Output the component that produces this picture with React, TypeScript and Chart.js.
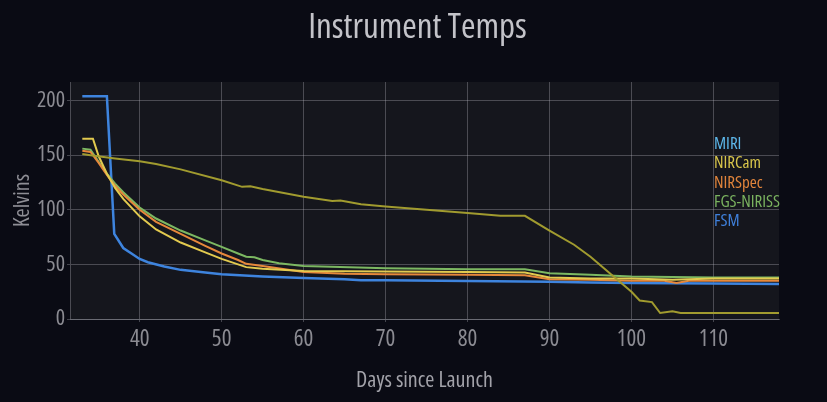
import { useEffect, useRef } from "react";
import { Chart, registerables } from "chart.js";

Chart.register(...registerables);

const FONT = "'Open Sans', sans-serif";
// goes into the weight slot of the canvas font string, picks the condensed face
const STRETCH = "500 condensed";

// days since launch / temperature in kelvin
const miriDays = [33, 34, 37, 40, 42, 45, 50, 52.5, 53.5, 55, 60, 63.5, 64.5, 67, 70, 75, 80, 84, 87, 90, 93, 95, 97.5, 100, 101, 102.5, 103.5, 105, 106, 118];
const miriKelvin = [151, 150, 147, 144.5, 142, 137, 127, 121, 121.5, 119, 112, 108, 108.5, 105, 103, 100, 97, 94.5, 94.5, 81, 68, 57, 41, 25, 17, 15.5, 5.5, 7, 5.5, 5.5];

const nircamDays = [33, 34.3, 35, 36, 37, 38, 40, 42, 45, 48, 50, 53, 55, 60, 70, 80, 87, 90, 95, 100, 105, 110, 118];
const nircamKelvin = [165, 165, 149, 133, 120, 110, 94, 82, 70, 61, 55, 47.5, 46, 44, 43.5, 43, 42.5, 38, 37, 37, 36, 37, 37];

const nirspecDays = [33, 34, 35, 36, 37, 38, 40, 42, 45, 48, 50, 52, 53, 55, 60, 65, 70, 80, 87, 90, 95, 100, 104, 105.5, 107, 118];
const nirspecKelvin = [154, 153, 143, 132, 122, 114, 100, 89, 78, 67, 60, 54, 50.5, 48.5, 43, 41.5, 41, 40.5, 40, 36.5, 36, 35, 35, 33, 35, 35];

const fgsDays = [33, 34, 35, 36, 37, 38, 40, 42, 45, 48, 50, 52, 53, 54, 55, 57, 60, 70, 80, 87, 90, 95, 100, 110, 118];
const fgsKelvin = [156, 155, 144, 133, 124, 116, 102, 92, 81, 72, 66, 60, 57, 56.5, 54, 51, 48.5, 46.5, 45.5, 45.5, 42, 40.5, 39, 38, 38];

const fsmDays = [33, 36, 36.9, 38, 39, 40, 41, 43, 45, 48, 50, 55, 60, 65, 67, 70, 80, 90, 95, 100, 110, 118];
const fsmKelvin = [204, 204, 78, 65, 60, 55, 52, 48, 45, 42.5, 41, 39, 37.5, 36.5, 35.5, 35.5, 34.7, 34, 33.5, 33, 32.5, 32];

const xTicks = [40, 50, 60, 70, 80, 90, 100, 110];
const yTicks = [0, 50, 100, 150, 200];

const seriesNames = ["MIRI", "NIRCam", "NIRSpec", "FGS-NIRISS", "FSM"];
const lineColors = ["#a19b2f", "#e2ca4f", "#e6883b", "#7cb862", "#3e84de"];
const labelColors = ["#5db7ea", "#d8c54b", "#e0843b", "#7ab25f", "#3f80dc"];

const toPoints = (xs: number[], ys: number[]) => xs.map((x, i) => ({ x, y: ys[i] }));

const plotBackground = {
  id: "plotBackground",
  beforeDraw(chart: Chart) {
    const { ctx, chartArea } = chart;
    ctx.save();
    ctx.fillStyle = "#15161d";
    ctx.fillRect(chartArea.left, chartArea.top, chartArea.right - chartArea.left, chartArea.bottom - chartArea.top);
    ctx.restore();
  },
};

// plain text legend sitting inside the plot, right side
const textLegend = {
  id: "textLegend",
  afterDatasetsDraw(chart: Chart) {
    const { ctx, chartArea } = chart;
    ctx.save();
    ctx.font = `${STRETCH} 17px ${FONT}`;
    ctx.textAlign = "left";
    ctx.textBaseline = "middle";
    seriesNames.forEach((name, i) => {
      ctx.fillStyle = labelColors[i];
      ctx.fillText(name, chartArea.right - 65, chartArea.top + 62 + i * 19.4);
    });
    ctx.restore();
  },
};

export default function App() {
  const canvasRef = useRef<HTMLCanvasElement | null>(null);

  useEffect(() => {
    document.body.style.margin = "0";
    document.body.style.background = "#0a0b14";
    if (!canvasRef.current) return;

    const datasets = [
      toPoints(miriDays, miriKelvin),
      toPoints(nircamDays, nircamKelvin),
      toPoints(nirspecDays, nirspecKelvin),
      toPoints(fgsDays, fgsKelvin),
      toPoints(fsmDays, fsmKelvin),
    ].map((data, i) => ({
      label: seriesNames[i],
      data,
      borderColor: lineColors[i],
      backgroundColor: lineColors[i],
      borderWidth: i === 4 ? 2.5 : 2,
      pointRadius: 0,
      tension: 0,
      fill: false,
    }));

    const gridColor = "rgba(190, 190, 200, 0.32)";

    const chart = new Chart(canvasRef.current, {
      type: "line",
      data: { datasets },
      plugins: [plotBackground, textLegend],
      options: {
        responsive: true,
        maintainAspectRatio: false,
        animation: false,
        layout: { padding: { left: 6, right: 48, top: 82, bottom: 4 } },
        plugins: {
          legend: { display: false },
          tooltip: { enabled: false },
        },
        scales: {
          x: {
            type: "linear",
            min: 31.5,
            max: 118,
            afterBuildTicks: (scale) => {
              scale.ticks = xTicks.map((value) => ({ value }));
            },
            afterFit: (scale) => {
              scale.height = 79;
            },
            grid: { color: gridColor, tickLength: 3 },
            border: { color: gridColor },
            ticks: {
              color: "#8b8b92",
              padding: 4,
              maxRotation: 0,
              font: { family: FONT, size: 23, weight: STRETCH },
            },
            title: {
              display: true,
              text: "Days since Launch",
              color: "#a2a2a9",
              font: { family: FONT, size: 22, weight: STRETCH },
            },
          },
          y: {
            min: 0,
            max: 217,
            afterBuildTicks: (scale) => {
              scale.ticks = yTicks.map((value) => ({ value }));
            },
            afterFit: (scale) => {
              scale.width = 64;
            },
            grid: { color: gridColor, tickLength: 3 },
            border: { color: gridColor },
            ticks: {
              color: "#8b8b92",
              padding: 2,
              font: { family: FONT, size: 22, weight: STRETCH },
            },
            title: {
              display: true,
              text: "Kelvins",
              color: "#8e8e95",
              font: { family: FONT, size: 22, weight: STRETCH },
            },
          },
        },
      },
    });

    return () => chart.destroy();
  }, []);

  return (
    <div style={{ width: 827, height: 402, background: "#0a0b14", position: "relative" }}>
      <div
        style={{
          position: "absolute",
          top: 4,
          left: 8,
          width: 819,
          textAlign: "center",
          fontFamily: FONT,
          fontStretch: "condensed",
          fontWeight: 500,
          fontSize: 35,
          lineHeight: "42px",
          color: "#c3c3c9",
        }}
      >
        Instrument Temps
      </div>
      <canvas ref={canvasRef} />
    </div>
  );
}
